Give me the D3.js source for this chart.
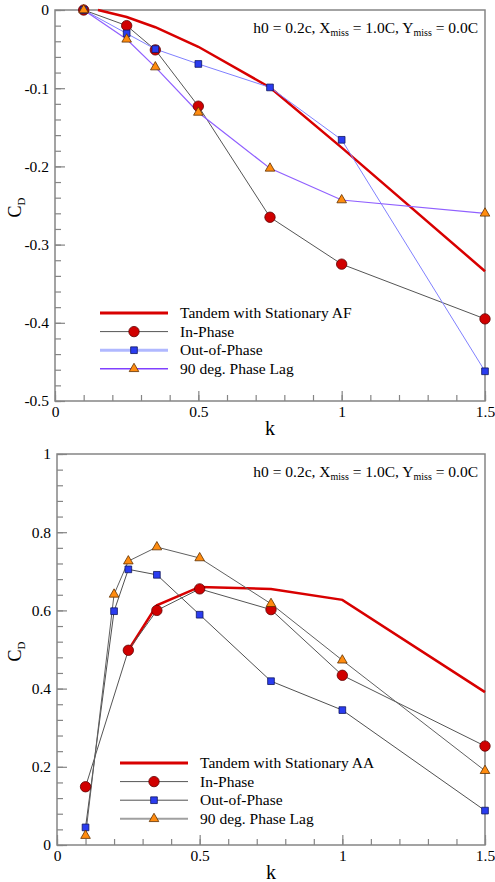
<!DOCTYPE html>
<html>
<head>
<meta charset="utf-8">
<script src="https://cdn.jsdelivr.net/npm/d3@7"></script>
<style>
body { margin: 0; background: #fff; }
svg text { font-family: "Liberation Serif", "Times New Roman", Times, "DejaVu Serif", serif; fill: #000; }
</style>
</head>
<body>
<div id="chart"></div>
<script>
// ---- data ----
var kTicks = [0, 0.5, 1, 1.5];
var topYTicks = [0, -0.1, -0.2, -0.3, -0.4, -0.5];
var botYTicks = [0, 0.2, 0.4, 0.6, 0.8, 1];

var legendNames = ["In-Phase", "Out-of-Phase", "90 deg. Phase Lag"];
var topTandemName = "Tandem with Stationary AF";
var botTandemName = "Tandem with Stationary AA";

// top panel (AF)
var topTandemK = [0.15, 0.25, 0.35, 0.5, 0.75, 1.0, 1.5];
var topTandem = [0, -0.009, -0.022, -0.047, -0.099, -0.176, -0.334];
var topK = [0.1, 0.25, 0.35, 0.5, 0.75, 1.0, 1.5];
var topInPhase = [0, -0.02, -0.051, -0.123, -0.265, -0.325, -0.395];
var topOutPhase = [0, -0.03, -0.05, -0.069, -0.099, -0.166, -0.462];
var topLag90 = [0, -0.0375, -0.073, -0.131, -0.2025, -0.243, -0.26];

// bottom panel (AA)
var botTandemK = [0.25, 0.35, 0.5, 0.75, 1.0, 1.5];
var botTandem = [0.498, 0.613, 0.66, 0.655, 0.627, 0.391];
var botInPhaseK = [0.1, 0.25, 0.35, 0.5, 0.75, 1.0, 1.5];
var botInPhase = [0.149, 0.498, 0.6, 0.655, 0.602, 0.434, 0.253];
var botK = [0.1, 0.2, 0.25, 0.35, 0.5, 0.75, 1.0, 1.5];
var botOutPhase = [0.045, 0.598, 0.705, 0.691, 0.589, 0.419, 0.345, 0.088];
var botLag90 = [0.024, 0.641, 0.726, 0.762, 0.734, 0.617, 0.4725, 0.19];

function pairs(xs, ys) {
  return xs.map(function(x, i) { return {k: x, v: ys[i]}; });
}

var serif = "'Liberation Serif', 'Times New Roman', Times, 'DejaVu Serif', serif";

var svg = d3.select("#chart")
  .append("svg")
  .attr("width", 495)
  .attr("height", 882)
  .style("font-family", serif);

var axisGray = "#858585";

function drawPanel(p) {
  var x = d3.scaleLinear().domain([0, 1.5]).range([p.left, p.right]);
  var y = d3.scaleLinear().domain(p.yDomain).range([p.bottom, p.top]);
  var g = svg.append("g");

  // frame
  g.append("rect")
    .attr("x", p.left).attr("y", p.top)
    .attr("width", p.right - p.left).attr("height", p.bottom - p.top)
    .attr("fill", "none").attr("stroke", axisGray).attr("stroke-width", 1.5);

  // minor ticks
  var xMinor = d3.range(0, 16).map(function(i) { return i / 10; });
  var yMinor = d3.range(0, Math.round((p.yDomain[1] - p.yDomain[0]) / p.yMinorStep) + 1)
    .map(function(i) { return +(p.yDomain[0] + i * p.yMinorStep).toFixed(3); });

  g.append("g")
    .attr("transform", "translate(0," + p.bottom + ")")
    .call(d3.axisBottom(x).tickValues(xMinor).tickSize(-6).tickFormat(""))
    .call(function(a) { a.select(".domain").remove(); });
  g.append("g")
    .attr("transform", "translate(" + p.left + ",0)")
    .call(d3.axisLeft(y).tickValues(yMinor).tickSize(-6).tickFormat(""))
    .call(function(a) { a.select(".domain").remove(); });

  // major ticks + labels
  var fmt = function(d) { return String(+d.toFixed(2)); };
  var xAxis = g.append("g")
    .attr("transform", "translate(0," + p.bottom + ")")
    .call(d3.axisBottom(x).tickValues(kTicks).tickSize(-10).tickPadding(5).tickFormat(fmt));
  var yAxis = g.append("g")
    .attr("transform", "translate(" + p.left + ",0)")
    .call(d3.axisLeft(y).tickValues(p.yTicks).tickSize(-10).tickPadding(6).tickFormat(fmt));
  [xAxis, yAxis].forEach(function(a) {
    a.select(".domain").remove();
    a.attr("font-family", null);
    a.selectAll("text").style("font-size", "15.5px").attr("fill", "#000")
      .style("font-family", serif);
  });
  g.selectAll(".tick line").attr("stroke", axisGray).attr("stroke-width", 1.2);

  // axis titles
  g.append("text")
    .attr("x", (p.left + p.right) / 2)
    .attr("y", p.bottom + 34)
    .attr("text-anchor", "middle")
    .style("font-size", "20px")
    .text("k");

  var cd = g.append("text")
    .attr("transform", "translate(21," + ((p.top + p.bottom) / 2 + 2) + ") rotate(-90)")
    .attr("text-anchor", "middle")
    .style("font-size", "18px");
  cd.append("tspan").text("C");
  cd.append("tspan").attr("dy", 4).style("font-size", "11px").text("D");

  // annotation
  var ann = g.append("text")
    .attr("x", p.right - 7)
    .attr("y", p.top + 23)
    .attr("text-anchor", "end")
    .style("font-size", "15.5px");
  ann.append("tspan").text("h0 = 0.2c, X");
  ann.append("tspan").attr("dy", 3).style("font-size", "10px").text("miss");
  ann.append("tspan").attr("dy", -3).text(" = 1.0C, Y");
  ann.append("tspan").attr("dy", 3).style("font-size", "10px").text("miss");
  ann.append("tspan").attr("dy", -3).text(" = 0.0C");

  var line = d3.line()
    .x(function(d) { return x(d.k); })
    .y(function(d) { return y(d.v); });

  p.series.forEach(function(s) {
    g.append("path")
      .datum(s.data)
      .attr("d", line)
      .attr("fill", "none")
      .attr("stroke", s.color)
      .attr("stroke-width", s.width);
  });

  p.series.forEach(function(s) {
    if (!s.symbol) return;
    g.selectAll(null)
      .data(s.data)
      .enter()
      .append("path")
      .attr("transform", function(d) { return "translate(" + x(d.k) + "," + y(d.v) + ")"; })
      .attr("d", d3.symbol().type(s.symbol).size(s.size))
      .attr("fill", s.fill)
      .attr("stroke", s.stroke)
      .attr("stroke-width", 0.8);
  });

  // legend
  p.series.forEach(function(s, i) {
    var ly = p.legendY + i * 18.6;
    g.append("line")
      .attr("x1", p.legendX).attr("x2", p.legendX + 68)
      .attr("y1", ly).attr("y2", ly)
      .attr("stroke", s.legendColor || s.color)
      .attr("stroke-width", s.legendWidth || s.width);
    if (s.symbol) {
      g.append("path")
        .attr("transform", "translate(" + (p.legendX + 34) + "," + ly + ")")
        .attr("d", d3.symbol().type(s.symbol).size(s.size))
        .attr("fill", s.fill)
        .attr("stroke", s.stroke)
        .attr("stroke-width", 0.8);
    }
    g.append("text")
      .attr("x", p.legendX + 80)
      .attr("y", ly + 5)
      .style("font-size", "15.5px")
      .text(s.name);
  });
}

drawPanel({
  left: 55, right: 485, top: 10, bottom: 401,
  yDomain: [-0.5, 0], yTicks: topYTicks, yMinorStep: 0.02,
  legendX: 100, legendY: 313,
  series: [
    {name: topTandemName, data: pairs(topTandemK, topTandem), color: "#d80000", width: 2.5, legendWidth: 3},
    {name: legendNames[0], data: pairs(topK, topInPhase), color: "#555555", width: 1,
      symbol: d3.symbolCircle, size: 85, fill: "#d00000", stroke: "#600000"},
    {name: legendNames[1], data: pairs(topK, topOutPhase), color: "#8080ff", width: 1,
      legendColor: "#b0b8ff", legendWidth: 3,
      symbol: d3.symbolSquare, size: 45, fill: "#2a3cf0", stroke: "#101860"},
    {name: legendNames[2], data: pairs(topK, topLag90), color: "#9060ff", width: 1.2,
      legendColor: "#8040ff", legendWidth: 1.5,
      symbol: d3.symbolTriangle, size: 40, fill: "#ff8c10", stroke: "#603000"}
  ]
});

drawPanel({
  left: 57, right: 485, top: 454, bottom: 845,
  yDomain: [0, 1], yTicks: botYTicks, yMinorStep: 0.04,
  legendX: 120, legendY: 763,
  series: [
    {name: botTandemName, data: pairs(botTandemK, botTandem), color: "#d80000", width: 2.5, legendWidth: 3},
    {name: legendNames[0], data: pairs(botInPhaseK, botInPhase), color: "#555555", width: 1,
      symbol: d3.symbolCircle, size: 85, fill: "#d00000", stroke: "#600000"},
    {name: legendNames[1], data: pairs(botK, botOutPhase), color: "#505050", width: 1,
      symbol: d3.symbolSquare, size: 45, fill: "#2a3cf0", stroke: "#101860"},
    {name: legendNames[2], data: pairs(botK, botLag90), color: "#606060", width: 1,
      legendColor: "#a0a0a0", legendWidth: 2,
      symbol: d3.symbolTriangle, size: 40, fill: "#ff8c10", stroke: "#603000"}
  ]
});
</script>
</body>
</html>
